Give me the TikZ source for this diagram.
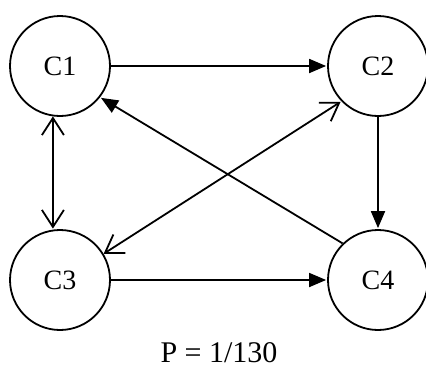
\documentclass[tikz,border=0pt]{standalone}
\usepackage{fontspec}
\setmainfont{Liberation Serif}
\usetikzlibrary{arrows.meta,positioning}

\begin{document}
\begin{tikzpicture}[->,>={Triangle[length=17pt,width=14pt]},shorten >=1pt,node distance=318pt, on grid,
  line width=1.8pt,
  state/.style={draw, circle, minimum size=100pt, inner sep=0pt, font=\fontsize{28}{32}\selectfont},
  twoway/.style={{Straight Barb[length=17pt,width=22pt]}-{Straight Barb[length=17pt,width=22pt]}}]
  \useasboundingbox (0,0) rectangle (426pt,-368pt);
  \node[state] (C1) at (60pt,-66pt) {C1};
  \node[state] (C2) [right=of C1] {C2};
  \node[state] (C3) [below=214pt of C1] {C3};
  \node[state] (C4) [right=of C3] {C4};
  \node (P) at (219pt,-362pt) [anchor=base, font=\fontsize{30}{34}\selectfont] {P = 1/130};

  \path (C1) edge (C2)
        (C1.262) edge [twoway] (C3.98)
        (C2) edge (C4)
        (C3) edge (C4)
        (C4.134) edge (C1.-38)
        (C3.31) edge [twoway] (C2.224);
\end{tikzpicture}
\end{document}
